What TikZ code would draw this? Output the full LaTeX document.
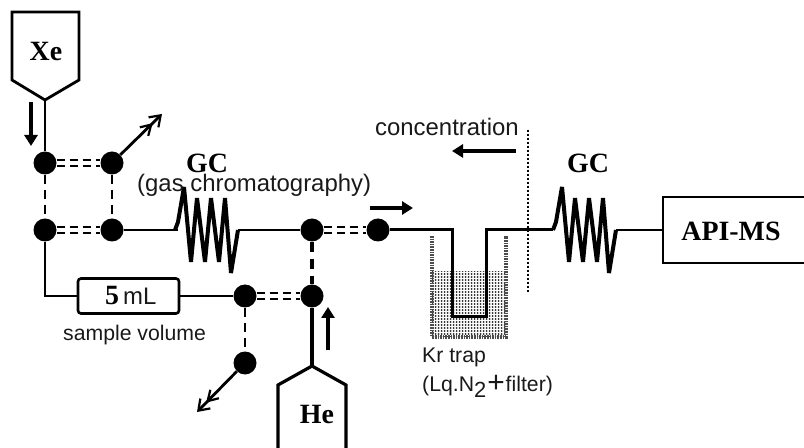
\documentclass[tikz,border=0pt]{standalone}
\usepackage{fontspec}
\setmainfont{Liberation Sans}
\newfontfamily\serifb[Scale=1]{Liberation Serif}
\usetikzlibrary{arrows.meta,patterns.meta}
\tikzset{
 valve/.style={circle,fill=black,inner sep=0,minimum size=23bp},
 pipe/.style={line width=2.6bp,line join=miter},
 ddash/.style={double,double distance=4.8bp,line width=2bp,dash pattern=on 8bp off 5bp},
 vdash/.style={line width=2.8bp,dash pattern=on 9bp off 6bp},
 vdashb/.style={line width=4bp,dash pattern=on 10bp off 7bp},
 flow/.style={line width=4bp,-{Triangle[length=11bp,width=13bp]}},
 vent/.style={line width=2.8bp,-{Straight Barb[length=10bp,width=12bp,line width=2.2bp] Straight Barb[length=10bp,width=14bp,line width=2.2bp]}},
 sans/.style={font=\fontsize{22}{26}\selectfont,inner sep=0,text=black!90},
 bold/.style={font=\serifb\bfseries\fontsize{28}{30}\selectfont,inner sep=0},
 zig/.style={line width=4bp,line join=bevel},
}
\begin{document}
\begin{tikzpicture}[x=1bp,y=-1bp]
\useasboundingbox (0,0) rectangle (804,448);
% liquid nitrogen
\fill[pattern={Dots[distance=3bp,radius=1bp,xshift=.5bp]},pattern color=black!85] (431,272) rectangle (507,337);
\draw[line width=4bp,black!70,dash pattern=on 1.6bp off 1bp] (432,236) -- (432,337) -- (506,337) -- (506,236);
% valves
\node[valve] (a) at (45,163) {};
\node[valve] (b) at (112,163) {};
\node[valve] (c) at (45,230) {};
\node[valve] (d) at (112,230) {};
\node[valve] (e) at (312,230) {};
\node[valve] (f) at (378,230) {};
\node[valve] (g) at (245,296) {};
\node[valve] (h) at (312,296) {};
\node[valve] (i) at (245,363) {};
% cylinders
\draw[line width=2.8bp,fill=white,line join=miter] (12,12) -- (79,12) -- (79,80) -- (45,100) -- (12,80) -- cycle;
\coordinate (xeout) at (45,100);
\node[bold] (xe) at (46,52) {Xe};
\draw[line width=3.2bp,line join=miter] (278,448) -- (278,385) -- (312,366) -- (346,385) -- (346,448);
\coordinate (heout) at (312,366);
\node[bold] (he) at (317,414) {He};
% sample loop
\node[draw,line width=2.6bp,rounded corners=3bp,minimum width=101bp,minimum height=35bp,inner sep=0] (loop) at (128.5,296) {};
\node[bold,anchor=base west] (five) at (105,305) {5};
\node[sans,font=\fontsize{24}{26}\selectfont,anchor=base west] (ml) at (123,305) {mL};
% GC columns
\coordinate (g1in) at (178,230);
\coordinate (g1out) at (238,230);
\coordinate (g2in) at (553,230);
\coordinate (g2out) at (616,230);
% MS
\draw[line width=2.6bp] (804,197) -- (663,197) -- (663,263) -- (804,263);
\coordinate (ms) at (663,230);
\node[bold] (api) at (731,231) {API-MS};
% pipes
\draw[pipe] (xeout) -- (a);
\draw[pipe] (c) |- (loop.west);
\draw[pipe] (loop.east) -- (g);
\draw[pipe] (d) -- (g1in);
\draw[pipe] (g1out) -- (e);
\draw[line width=3.2bp] (heout) -- (h);
\draw[pipe,line width=3bp] (f) -- (452,230) -- (452,317) -- (486,317) -- (486,230) -- (g2in);
\draw[pipe] (g2out) -- (ms);
% dashed links
\draw[ddash] (a) -- (b);
\draw[ddash] (c) -- (d);
\draw[ddash] (e) -- (f);
\draw[ddash] (g) -- (h);
\draw[vdash] (a) -- (c);
\draw[vdash] (b) -- (d);
\draw[vdash] (g) -- (i);
\draw[vdashb] (e) -- (h);
% zigzags
\foreach \o in {0,-378}{
 \draw[zig,xshift=\o bp] (553,230) -- (556,222) -- (562,187) -- (569,262) -- (575,198) -- (583,262) -- (589,198) -- (597,262) -- (603,198) -- (609,273) -- (616,230);
}
% vents
\coordinate (v1) at (162,114);
\coordinate (v2) at (197,412);
\draw[vent] (b) -- (v1);
\draw[vent] (i) -- (v2);
% flow arrows
\draw[flow] (31,102) -- (31,146);
\draw[flow] (328,350) -- (328,307);
\draw[flow] (370,208) -- (413,208);
\draw[flow] (516,151) -- (452,151);
% concentration boundary
\draw[line width=1.6bp,dash pattern=on 2.5bp off 1.5bp] (528,130) -- (528,293);
% labels
\node[bold] (gc1) at (207,163) {GC};
\node[bold] (gc2) at (588,163) {GC};
\node[sans,anchor=base west,font=\fontsize{24}{26}\selectfont] (gas) at (137,192) {(gas chromatography)};
\node[sans,anchor=base west,font=\fontsize{24}{26}\selectfont] (conc) at (375,136) {concentration};
\node[sans,anchor=base west,font=\fontsize{21.3}{24}\selectfont] (sv) at (63,341) {sample volume};
\node[sans,anchor=base west,font=\fontsize{21.3}{24}\selectfont] (kr) at (422,363) {Kr trap};
\node[sans,anchor=base west,font=\fontsize{21.3}{24}\selectfont] (lq) at (422,391) {(Lq.N\raisebox{-6bp}{\fontsize{22}{24}\selectfont 2}\kern1bp\raisebox{-1bp}{\fontsize{30}{30}\selectfont +}\kern1bp filter)};
\end{tikzpicture}
\end{document}
